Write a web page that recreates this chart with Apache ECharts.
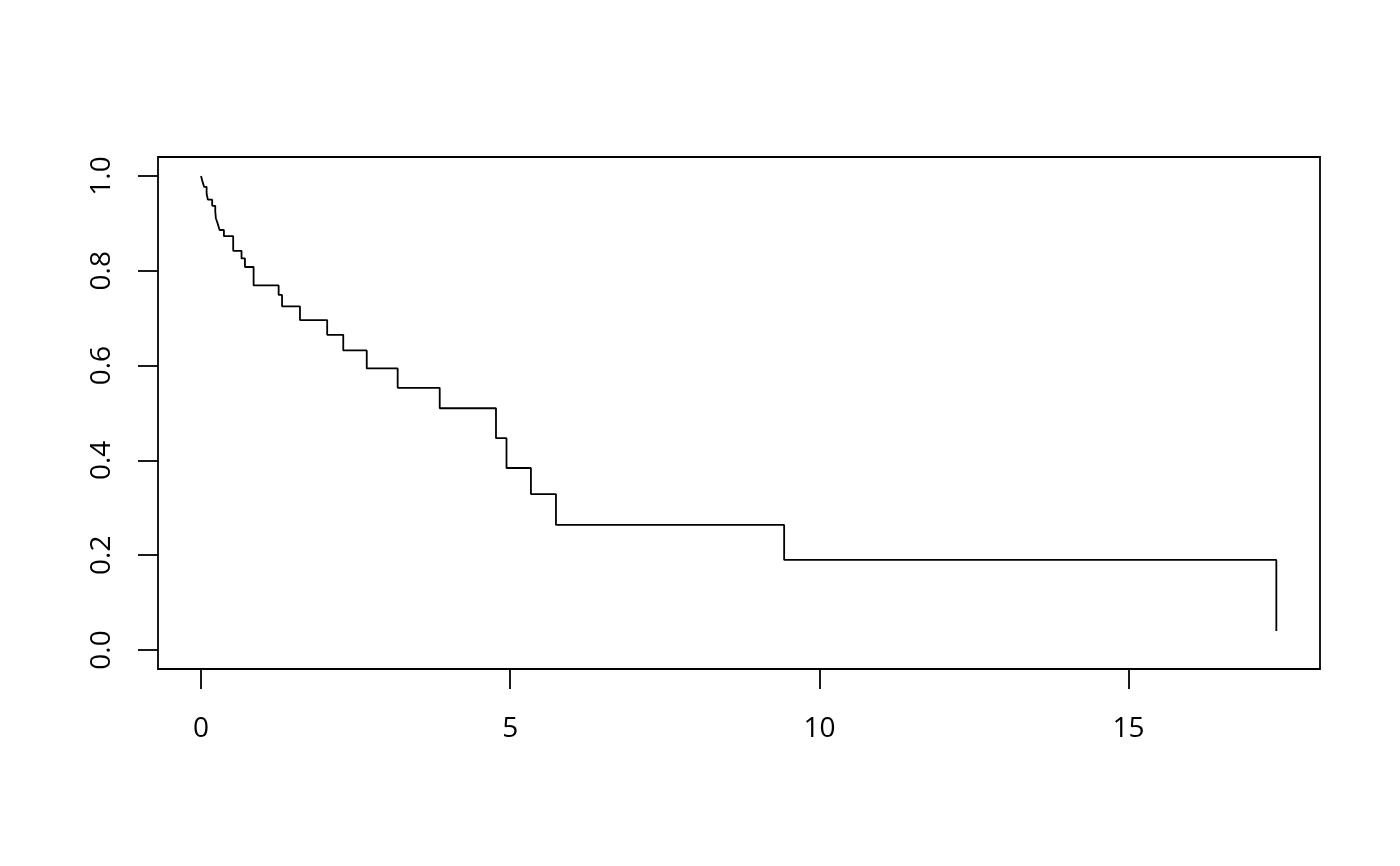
<!DOCTYPE html>
<html lang="en">
<head>
    <meta charset="UTF-8">
    <title>Survival curve</title>
</head>
<style>
    html, body{
        margin: 0;
        padding: 0;
        background-color: #fff;
    }
    .main{
        width: 1400px;
        height: 866px;
    }
</style>
<body>
<div id="main" class="main"></div>
<script src="https://cdn.jsdelivr.net/npm/echarts@6/dist/echarts.min.js"></script>
<script>
    // step curve: time and survival estimate
    var times = [0, 0.02, 0.05, 0.09, 0.11, 0.18, 0.23, 0.24, 0.27, 0.30, 0.37, 0.52, 0.655, 0.71, 0.85,
        1.255, 1.31, 1.60, 2.04, 2.30, 2.68, 3.18, 3.86, 4.77, 4.94, 5.335, 5.74, 9.43, 17.39];
    var surv = [1.000, 0.990, 0.977, 0.963, 0.950, 0.937, 0.925, 0.911, 0.899, 0.886, 0.873, 0.842, 0.826, 0.808, 0.769,
        0.749, 0.725, 0.696, 0.665, 0.632, 0.594, 0.553, 0.510, 0.447, 0.384, 0.329, 0.264, 0.190, 0.040];

    var xTicks = [0, 5, 10, 15];
    var yTicks = [0, 0.2, 0.4, 0.6, 0.8, 1.0];

    var pts = [];
    for (var i = 0; i < times.length; i++) {
        pts.push([times[i], surv[i]]);
    }

    var chart = echarts.init(document.getElementById('main'));
    var font = 'Open Sans';

    var option = {
        animation: false,
        backgroundColor: '#fff',
        grid: {
            left: 158,
            top: 157,
            right: 80,
            bottom: 197,
            show: true,
            borderColor: '#000',
            borderWidth: 1.8,
            backgroundColor: 'transparent'
        },
        xAxis: {
            type: 'value',
            min: -0.696,
            max: 18.096,
            splitLine: {show: false},
            axisLine: {show: false, onZero: false},
            axisTick: {
                show: true,
                length: 20,
                customValues: xTicks,
                lineStyle: {color: '#000', width: 1.8}
            },
            axisLabel: {
                customValues: xTicks,
                margin: 46,
                color: '#000',
                fontSize: 28,
                fontFamily: font,
                formatter: function (v) { return String(v); }
            }
        },
        yAxis: {
            type: 'value',
            min: -0.04,
            max: 1.04,
            splitLine: {show: false},
            axisLine: {show: false, onZero: false},
            axisTick: {
                show: true,
                length: 20,
                customValues: yTicks,
                lineStyle: {color: '#000', width: 1.8}
            },
            axisLabel: {
                customValues: yTicks,
                rotate: 90,
                margin: 42,
                color: '#000',
                fontSize: 28,
                fontFamily: font,
                formatter: function (v) { return v.toFixed(1); }
            }
        },
        series: [
            {
                type: 'line',
                step: 'end',
                symbol: 'none',
                data: pts,
                lineStyle: {color: '#000', width: 1.8}
            }
        ]
    };
    chart.setOption(option);
</script>
</body>
</html>
